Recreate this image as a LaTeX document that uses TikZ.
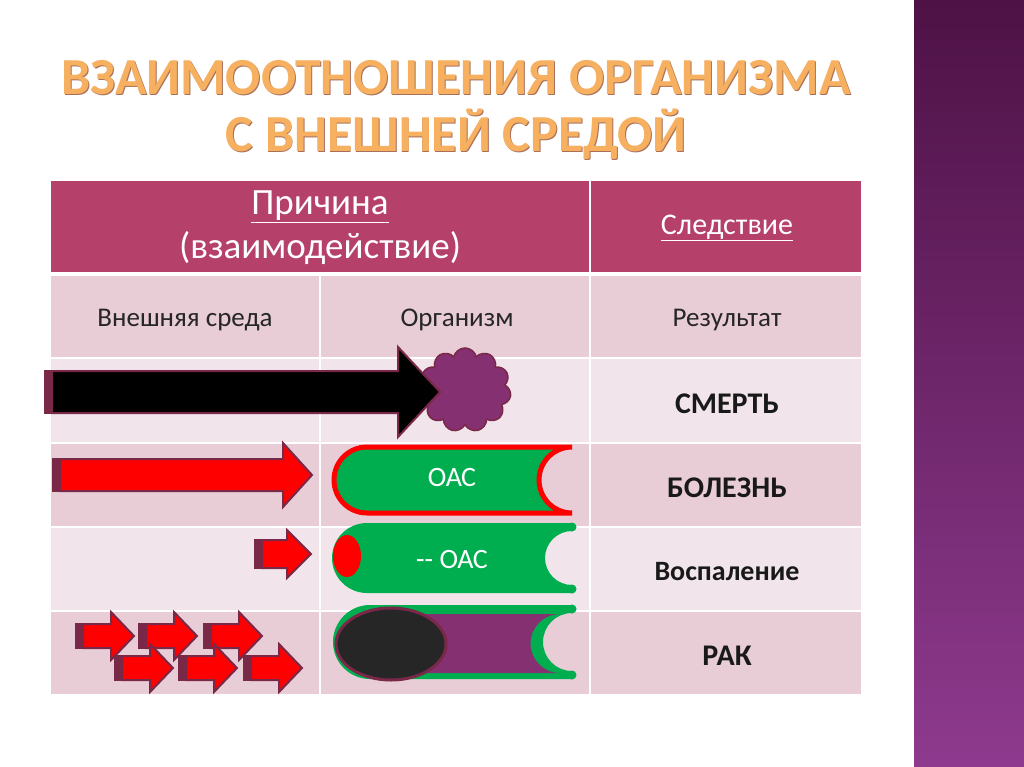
\documentclass[tikz,border=0pt]{standalone}
\usepackage{fontspec}
\setmainfont{Carlito}
\usetikzlibrary{shapes.symbols}
\definecolor{hdr}{HTML}{B5406A}
\definecolor{rowA}{HTML}{E8CCD6}
\definecolor{rowB}{HTML}{F1E5EB}
\definecolor{maro}{HTML}{7A2848}
\definecolor{tgreen}{HTML}{00AE4F}
\definecolor{tpurp}{HTML}{853070}
\definecolor{ttl}{HTML}{F6B060}
\definecolor{ttlb}{HTML}{A8705A}
\definecolor{sbtop}{HTML}{4E1246}
\definecolor{sbbot}{HTML}{8E3A8E}
\tikzset{
 cell/.style={draw=white,line width=1.5pt},
 txt/.style={font=\fontsize{27}{32}\selectfont,text=black!85},
 btxt/.style={font=\bfseries\fontsize{30}{34}\selectfont,text=black!90},
 wtxt/.style={text=white,font=\fontsize{28}{32}\selectfont},
}
\newcommand\garr[7]{% tailx, y, headx, tipx, bodyhalf, headhalf, fill
\fill[maro] (#1-8,#2-#5-1) rectangle (#1+4,#2+#5+1);
\filldraw[fill=#7,draw=maro,line width=2pt,line join=miter] (#1,#2-#5) -- (#3,#2-#5) -- (#3,#2-#6) -- (#4,#2) -- (#3,#2+#6) -- (#3,#2+#5) -- (#1,#2+#5) -- cycle;}
\begin{document}
\begin{tikzpicture}[x=1pt,y=-1pt]
\useasboundingbox (0,0) rectangle (1024,767);
\fill[white] (0,0) rectangle (1024,767);
\shade[top color=sbtop, bottom color=sbbot] (914,0) rectangle (1024,767);
% title
\foreach \c/\d in {ttlb/0.9,ttl/0}{
\node[font=\bfseries\fontsize{52}{56}\selectfont,text=\c] (t1) at (456+\d,78+\d) {ВЗАИМООТНОШЕНИЯ ОРГАНИЗМА};
\node[font=\bfseries\fontsize{52}{56}\selectfont,text=\c] (t2) at (456+\d,134+\d) {С ВНЕШНЕЙ СРЕДОЙ};}
% table
\fill[hdr,cell] (50,180) rectangle (590,273);
\fill[hdr,cell] (590,180) rectangle (862,273);
\foreach \t/\b/\c in {275/358/rowA,358/443/rowB,443/527/rowA,527/611/rowB,611/695/rowA}{
 \fill[\c,cell] (50,\t) rectangle (320,\b);
 \fill[\c,cell] (320,\t) rectangle (590,\b);
 \fill[\c,cell] (590,\t) rectangle (862,\b);}
\node[align=center,text=white,font=\fontsize{37}{44}\selectfont] (h1) at (320,228) {\underline{Причина}\\(взаимодействие)};
\node[text=white,font=\fontsize{30}{34}\selectfont] (h2) at (727,228) {\underline{Следствие}};
\node[txt] (c1) at (185,320) {Внешняя среда};
\node[txt] (c2) at (457,320) {Организм};
\node[txt] (c3) at (727,320) {Результат};
\node[btxt] (r1) at (727,404) {СМЕРТЬ};
\node[btxt] (r2) at (727,488) {БОЛЕЗНЬ};
\node[btxt,font=\bfseries\fontsize{28}{32}\selectfont] (r3) at (727,572) {Воспаление};
\node[btxt] (r4) at (727,656) {РАК};
% row death
\node[cloud,cloud puffs=11,aspect=1.1,fill=tpurp,draw=maro,line width=1.5pt,minimum width=92pt,minimum height=84pt] (cl) at (465,390) {};
\garr{52}{392}{398}{440}{21}{45}{black}
% row disease
\garr{60}{475}{283}{312}{16}{32}{red}
\draw[red,line width=5pt,fill=tgreen] (572,447) -- (367,447) arc[start angle=270,end angle=90,radius=33] -- (572,513) arc[start angle=90,end angle=270,radius=33] ;
\node[wtxt] (o1) at (452,478) {ОАС};
% row inflammation
\garr{262}{554}{287}{311}{14}{24}{red}
\fill[tgreen] (572,523) -- (367,523) arc[start angle=270,end angle=90,radius=35] -- (572,593) -- (572,585) arc[start angle=90,end angle=270,radius=27] -- cycle;
\draw[tgreen,line width=9pt,line cap=round] (572,527)--(572,527) (572,589)--(572,589);
\fill[red] (347,556) ellipse[x radius=14,y radius=21];
\node[wtxt] (o2) at (452,560) {{-}{-} ОАС};
% row cancer
\foreach \x/\y in {77/636,140/636,205/636,116/668,180/668,245/668}{
 \garr{\x+6}{\y}{\x+34}{\x+57}{12}{24}{red}}
\fill[tgreen] (572,605) -- (370,605) arc[start angle=270,end angle=90,radius=37] -- (572,679) -- (572,671) arc[start angle=90,end angle=270,radius=29] -- cycle;
\fill[tpurp] (560,614) -- (400,614) -- (400,673) -- (560,673) arc[start angle=90,end angle=270,radius=29.5] -- cycle;
\draw[tgreen,line width=9pt,line cap=round] (572,609)--(572,609) (572,675)--(572,675);
\draw[maro,line width=3pt,fill=black!85] (391,644) ellipse[x radius=55,y radius=36];
\end{tikzpicture}
\end{document}
